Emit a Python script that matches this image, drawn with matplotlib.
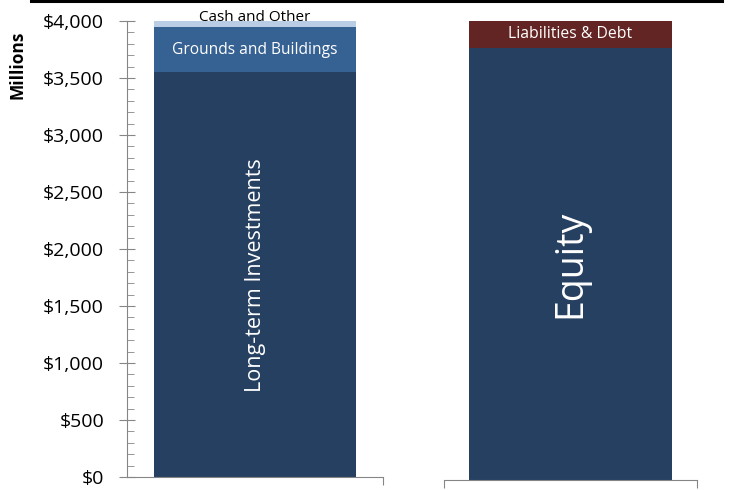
import matplotlib.pyplot as plt
from matplotlib.lines import Line2D
from matplotlib.ticker import MultipleLocator, FuncFormatter

plt.rcParams['font.family'] = ['Open Sans', 'DejaVu Sans']

# Assets (left bar), bottom to top, millions
asset_labels = ["Long-term Investments", "Grounds and Buildings", "Cash and Other"]
asset_values = [3550, 400, 50]
asset_colors = ["#264061", "#366193", "#B9CDE5"]

# Liabilities + equity (right bar), bottom to top
claim_labels = ["Equity", "Liabilities & Debt"]
claim_values = [3765, 235]
claim_colors = ["#264061", "#632523"]

W, H = 732, 490
fig = plt.figure(figsize=(W / 100, H / 100), dpi=100)

grey = "#868686"

# left axes
ax1 = fig.add_axes([127 / W, (H - 477) / H, 256 / W, 456 / H])
bottom = 0
for lab, val, col in zip(asset_labels, asset_values, asset_colors):
    ax1.bar(0, val, width=0.79, bottom=bottom, color=col, linewidth=0)
    bottom += val
ax1.set_xlim(-0.5, 0.5)
ax1.set_ylim(0, 4000)
ax1.yaxis.set_major_locator(MultipleLocator(500))
ax1.yaxis.set_minor_locator(MultipleLocator(100))
ax1.yaxis.set_major_formatter(FuncFormatter(lambda v, p: "${:,.0f}".format(v)))
ax1.tick_params(axis="y", which="major", direction="inout", length=11, color=grey,
                labelsize=14, pad=11)
ax1.tick_params(axis="y", which="minor", direction="in", length=5, color=grey)
ax1.set_xticks([0.5])
ax1.set_xticklabels([""])
ax1.tick_params(axis="x", direction="out", length=6, color=grey)
for s in ["top", "right"]:
    ax1.spines[s].set_visible(False)
for s in ["left", "bottom"]:
    ax1.spines[s].set_color(grey)
ax1.patch.set_alpha(0)

# labels on left bar
ax1.text(0, asset_values[0] / 2, asset_labels[0], rotation=90, color="white",
         ha="center", va="center", fontsize=15.5)
ax1.text(0, asset_values[0] + asset_values[1] / 2, asset_labels[1], color="white",
         ha="center", va="center", fontsize=11.2)
ax1.text(0, sum(asset_values) + 30, asset_labels[2], color="black",
         ha="center", va="center", fontsize=11, clip_on=False)

# right axes
ax2 = fig.add_axes([444 / W, (H - 480) / H, 253 / W, 459 / H])
bottom = 0
for lab, val, col in zip(claim_labels, claim_values, claim_colors):
    ax2.bar(0, val, width=0.806, bottom=bottom, color=col, linewidth=0)
    bottom += val
ax2.set_xlim(-0.5, 0.5)
ax2.set_ylim(0, 4000)
ax2.set_yticks([])
ax2.set_xticks([-0.5, 0.5])
ax2.set_xticklabels(["", ""])
ax2.tick_params(axis="x", direction="out", length=6, color=grey)
for s in ["top", "right", "left"]:
    ax2.spines[s].set_visible(False)
ax2.spines["bottom"].set_color(grey)
ax2.patch.set_alpha(0)

ax2.text(0, claim_values[0] / 2, claim_labels[0], rotation=90, color="white",
         ha="center", va="center", fontsize=27)
ax2.text(0, claim_values[0] + claim_values[1] / 2, claim_labels[1], color="white",
         ha="center", va="center", fontsize=11.3)

fig.text(18 / W, 1 - 65 / H, "Millions", rotation=90, fontsize=12.5, fontweight="bold",
         ha="center", va="center")

fig.add_artist(Line2D([31 / W, 722 / W], [1 - 1.2 / H, 1 - 1.2 / H], color="black",
                      linewidth=2.2, transform=fig.transFigure))

fig.savefig("out.png", dpi=100)
